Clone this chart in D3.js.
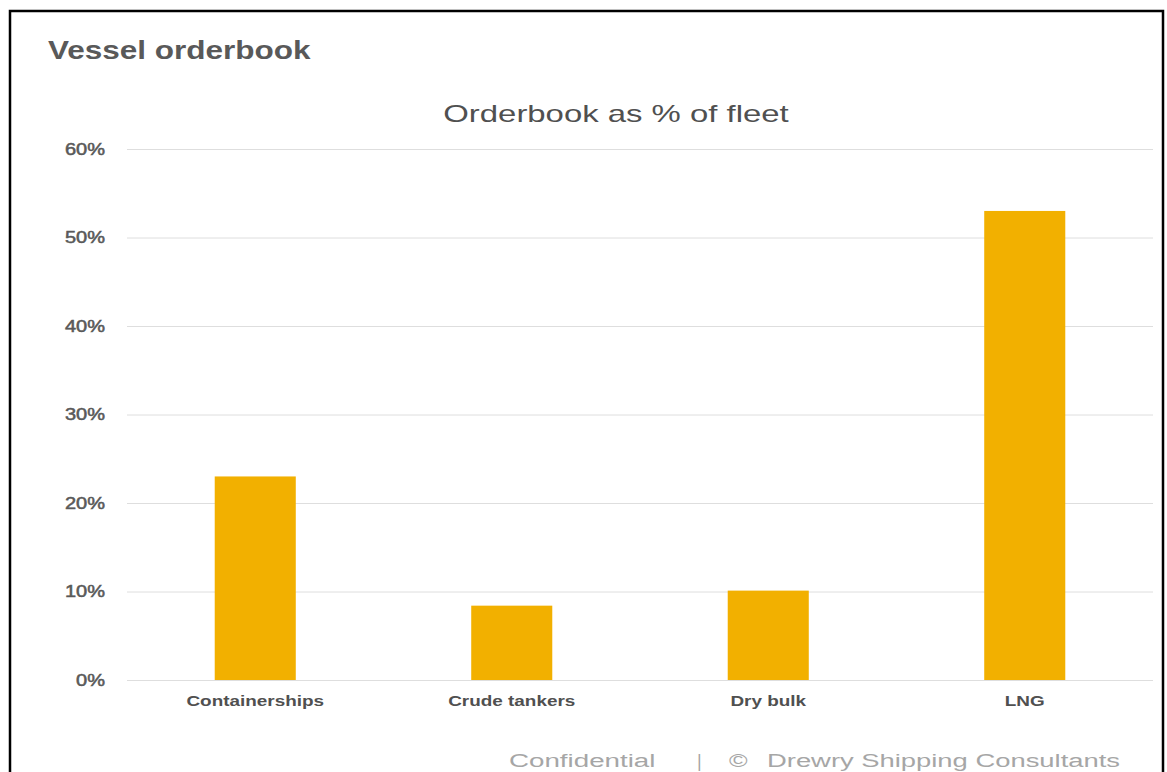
<!DOCTYPE html>
<html>
<head>
<meta charset="UTF-8">
<title>Vessel orderbook</title>
<script src="https://cdn.jsdelivr.net/npm/d3@7"></script>
<style>
  body { margin: 0; background: #fff; }
  svg text { font-family: "Liberation Sans", Arial, sans-serif; }
  .tick line { stroke: #dedede; }
  .domain { display: none; }
</style>
</head>
<body>
<svg id="chart" width="1167" height="772"></svg>
<script>
// data
var categories = ["Containerships", "Crude tankers", "Dry bulk", "LNG"];
var orderbookPct = [0.23, 0.084, 0.101, 0.53];
var yTicks = [0, 0.1, 0.2, 0.3, 0.4, 0.5, 0.6];

var svg = d3.select("#chart");

// the source picture is a bit wide, so text is stretched to match
var STRETCH = 1.26;
function widen(sel, f) {
    sel.each(function () {
        var w = this.getComputedTextLength();
        d3.select(this).attr("textLength", w * (f || STRETCH)).attr("lengthAdjust", "spacingAndGlyphs");
    });
}

// frame
svg.append("path")
    .attr("d", "M10,790 V11 H1163 V790")
    .attr("fill", "none").attr("stroke", "#000").attr("stroke-width", 2.5);

svg.append("text").attr("x", 48).attr("y", 59)
    .attr("font-size", 25).attr("font-weight", "bold").attr("fill", "#595959")
    .text("Vessel orderbook").call(widen);

svg.append("text").attr("x", 616).attr("y", 122).attr("text-anchor", "middle")
    .attr("font-size", 24).attr("fill", "#505050")
    .text("Orderbook as % of fleet").call(widen, 1.37);

var plotL = 127, plotR = 1153, plotT = 149, plotB = 680;

var x = d3.scaleBand().domain(categories).range([plotL, plotR])
    .paddingInner(0.684).paddingOuter(0.342);
var y = d3.scaleLinear().domain([0, 0.6]).range([plotB, plotT]);

var gy = svg.append("g").attr("transform", "translate(" + plotL + ",0)")
    .call(d3.axisLeft(y).tickValues(yTicks).tickFormat(d3.format(".0%"))
        .tickSize(-(plotR - plotL)).tickPadding(22));
gy.selectAll(".tick text").attr("font-size", 16)
    .attr("fill", "#595959").attr("stroke", "#595959").attr("stroke-width", 0.5)
    .call(widen, 1.25);

svg.append("g").selectAll("rect")
    .data(orderbookPct)
    .join("rect")
    .attr("x", (d, i) => x(categories[i]))
    .attr("width", x.bandwidth())
    .attr("y", d => y(d))
    .attr("height", d => y(0) - y(d))
    .attr("fill", "#f2b000");

var gx = svg.append("g").attr("transform", "translate(0," + plotB + ")")
    .call(d3.axisBottom(x).tickSize(0).tickPadding(15));
gx.selectAll(".tick text").attr("font-size", 15).attr("font-weight", "bold")
    .attr("fill", "#505050").call(widen);

// footer
var foot = svg.append("g").attr("font-size", 18).attr("fill", "#a6a6a6");
foot.append("text").attr("x", 509).attr("y", 767).text("Confidential").call(widen, 1.54);
foot.append("text").attr("x", 697).attr("y", 767).text("|");
foot.append("text").attr("x", 729).attr("y", 767).text("\u00a9").call(widen, 1.4);
foot.append("text").attr("x", 767).attr("y", 767).text("Drewry Shipping Consultants")
    .each(function () {
        d3.select(this).attr("textLength", 353).attr("lengthAdjust", "spacingAndGlyphs");
    });
</script>
</body>
</html>
